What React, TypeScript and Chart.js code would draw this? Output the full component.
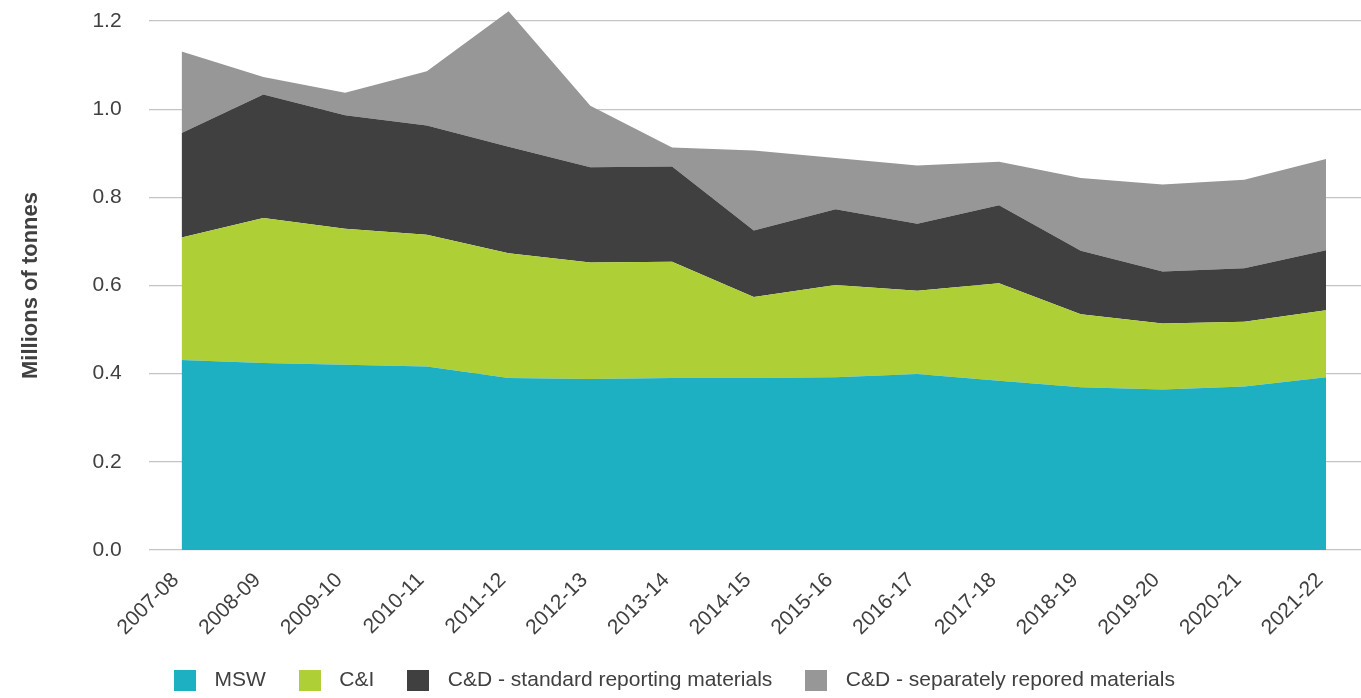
import React, { useEffect, useRef } from "react";
import { Chart, registerables } from "chart.js";

Chart.register(...registerables);

const categories = [
  "2007-08", "2008-09", "2009-10", "2010-11", "2011-12", "2012-13", "2013-14", "2014-15",
  "2015-16", "2016-17", "2017-18", "2018-19", "2019-20", "2020-21", "2021-22",
];

const seriesNames = [
  "MSW",
  "C&I",
  "C&D - standard reporting materials",
  "C&D - separately repored materials",
];

// Millions of tonnes (stacked components)
const msw = [0.431, 0.424, 0.420, 0.416, 0.390, 0.388, 0.390, 0.390, 0.392, 0.399, 0.384, 0.369, 0.364, 0.371, 0.392];
const ci = [0.278, 0.329, 0.309, 0.299, 0.283, 0.264, 0.264, 0.184, 0.209, 0.189, 0.221, 0.166, 0.150, 0.147, 0.152];
const cdStandard = [0.237, 0.280, 0.257, 0.248, 0.242, 0.216, 0.216, 0.151, 0.172, 0.152, 0.177, 0.144, 0.118, 0.121, 0.136];
const cdSeparate = [0.185, 0.040, 0.051, 0.123, 0.307, 0.140, 0.043, 0.181, 0.116, 0.132, 0.099, 0.165, 0.197, 0.201, 0.207];

const yAxisTitle = "Millions of tonnes";

const seriesColors = ["#1CB0C2", "#AECF36", "#404040", "#979797"];
const textColor = "#404040";
const fontFamily = "'Liberation Sans', Arial, sans-serif";

function makeSwatch(color: string): HTMLCanvasElement {
  const c = document.createElement("canvas");
  c.width = 22;
  c.height = 21;
  const g = c.getContext("2d");
  if (g) {
    g.fillStyle = color;
    g.fillRect(0, 0, 22, 21);
  }
  return c;
}

// Let the area fills extend above the top gridline (the 2011-12 peak exceeds 1.2)
const unclipPlugin = {
  id: "unclipFill",
  beforeDraw(chart: any) {
    chart.$savedTop = chart.chartArea.top;
    chart.chartArea.top = 0;
  },
  afterDraw(chart: any) {
    if (chart.$savedTop !== undefined) chart.chartArea.top = chart.$savedTop;
  },
};

// Nudge the centred legend slightly left and down, as in the reference
const legendShiftPlugin = {
  id: "legendShift",
  afterLayout(chart: any) {
    if (chart.legend) {
      chart.legend.left -= 10;
      chart.legend.right -= 10;
      chart.legend.top += 3;
      chart.legend.bottom += 3;
    }
  },
};

export default function App() {
  const canvasRef = useRef<HTMLCanvasElement | null>(null);

  useEffect(() => {
    if (!canvasRef.current) return;
    const seriesValues = [msw, ci, cdStandard, cdSeparate];
    const swatches = seriesColors.map(makeSwatch);
    const chart = new Chart(canvasRef.current, {
      type: "line",
      data: {
        datasets: seriesValues.map((vals, si) => ({
          label: seriesNames[si],
          data: vals.map((y, i) => ({ x: i, y })),
          backgroundColor: seriesColors[si],
          borderColor: seriesColors[si],
          borderWidth: 0,
          pointRadius: 0,
          tension: 0,
          clip: false,
          fill: si === 0 ? "origin" : "-1",
        })),
      },
      plugins: [unclipPlugin, legendShiftPlugin],
      options: {
        animation: false,
        responsive: true,
        maintainAspectRatio: false,
        layout: { padding: { top: 21, left: 0, right: 0, bottom: 0 } },
        plugins: {
          legend: {
            position: "bottom",
            labels: {
              usePointStyle: true,
              pointStyleWidth: 38,
              boxHeight: 21,
              padding: 25,
              color: textColor,
              font: { size: 21, family: fontFamily },
              generateLabels: (ch: any) => {
                const items = Chart.defaults.plugins.legend.labels.generateLabels(ch);
                return items.map((it: any, i: number) => ({ ...it, pointStyle: swatches[i], lineWidth: 0 }));
              },
            },
          },
          tooltip: { enabled: false },
        },
        scales: {
          x: {
            type: "linear",
            min: -0.404,
            max: 14.428,
            grid: { display: false },
            border: { display: false },
            ticks: {
              stepSize: 1,
              includeBounds: false,
              autoSkip: false,
              minRotation: 45,
              maxRotation: 45,
              padding: 10,
              labelOffset: -6,
              color: textColor,
              font: { size: 21, family: fontFamily },
              callback: (v: any) => categories[Math.round(Number(v))] ?? "",
            },
            afterFit: (s: any) => {
              s.height = 92;
            },
          },
          y: {
            stacked: true,
            min: 0,
            max: 1.2,
            grid: { color: "#c4c4c4", lineWidth: 1.3, drawTicks: false },
            border: { display: false },
            ticks: {
              stepSize: 0.2,
              padding: 27,
              color: textColor,
              font: { size: 21, family: fontFamily },
              callback: (v: any) => Number(v).toFixed(1),
            },
            title: {
              display: true,
              text: yAxisTitle,
              color: textColor,
              font: { size: 22, weight: "bold", family: fontFamily },
              padding: { top: 18, bottom: 21 },
            },
            afterFit: (s: any) => {
              s.paddingTop = 0;
            },
          },
        },
      },
    } as any);
    return () => chart.destroy();
  }, []);

  return (
    <div style={{ position: "absolute", left: 0, top: 0, width: 1361, height: 698 }}>
      <canvas ref={canvasRef} />
    </div>
  );
}
